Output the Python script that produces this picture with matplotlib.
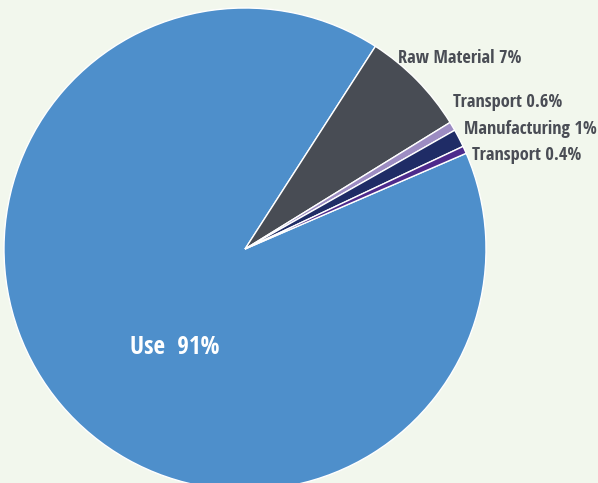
import matplotlib
matplotlib.use("Agg")
import matplotlib.pyplot as plt
from matplotlib import font_manager

categories = ["Use", "Raw Material", "Transport", "Manufacturing", "Transport"]
values = [90.6, 7.1, 0.6, 1.2, 0.5]
labels = ["Use  91%", "Raw Material 7%", "Transport 0.6%", "Manufacturing 1%", "Transport 0.4%"]
colors = ["#4e8fcb", "#484c54", "#9c8cc2", "#1f2c66", "#4d2a8c"]

W, H = 598, 483
fig = plt.figure(figsize=(W / 100, H / 100), dpi=100, facecolor="#f2f7ed")
ax = fig.add_axes([0, 0, 1, 1])
ax.set_facecolor("#f2f7ed")

cx, cy, r = 245, H - 249, 241
ax.pie(values, colors=colors, startangle=23.4, counterclock=False,
       center=(cx, cy), radius=r, frame=True,
       wedgeprops=dict(edgecolor="white", linewidth=1.0))
ax.set_xlim(0, W)
ax.set_ylim(0, H)
ax.set_aspect("equal")
ax.axis("off")

available = {f.name for f in font_manager.fontManager.ttflist}
cands = ["Open Sans Condensed", "Roboto Condensed", "DejaVu Sans Condensed",
         "Liberation Sans Narrow", "Open Sans"]
fam = [f for f in cands if f in available] + ["DejaVu Sans"]

lab_pos = [(130, 348, "white", 18),
           (398, 58, "#4a4d55", 13.2),
           (453, 102, "#4a4d55", 13.2),
           (464, 129, "#4a4d55", 13.2),
           (472, 155, "#4a4d55", 13.2)]
for lab, (x, y, c, fs) in zip(labels, lab_pos):
    ax.text(x, H - y, lab, color=c, fontsize=fs, fontweight="bold",
            fontstretch="condensed", family=fam, ha="left", va="center")

fig.savefig("out.png", dpi=100, facecolor=fig.get_facecolor())
